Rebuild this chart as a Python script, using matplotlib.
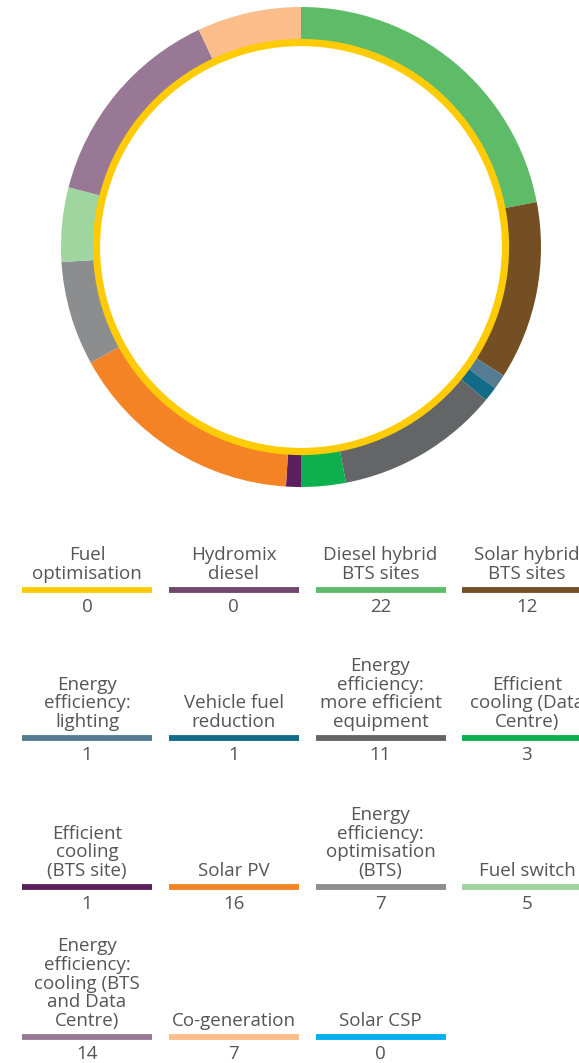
import matplotlib.pyplot as plt
from matplotlib.patches import Circle

# segments of the ring, clockwise from 12 o'clock
ring_labels = ['Diesel hybrid BTS sites', 'Solar hybrid BTS sites', 'Energy efficiency: lighting',
               'Vehicle fuel reduction', 'Energy efficiency: more efficient equipment',
               'Efficient cooling (Data Centre)', 'Efficient cooling (BTS site)', 'Solar PV',
               'Energy efficiency: optimisation (BTS)', 'Fuel switch',
               'Energy efficiency: cooling (BTS and Data Centre)', 'Co-generation']
ring_values = [22, 12, 1, 1, 11, 3, 1, 16, 7, 5, 14, 7]
ring_colors = ['#5EBC69', '#754F24', '#557C92', '#136B8A', '#646566', '#0CB04C',
               '#5A1F5C', '#F38325', '#8C8D8E', '#9FD59E', '#987895', '#FBBE8A']

# legend entries (order as printed)
legend_labels = ['Fuel\noptimisation', 'Hydromix\ndiesel', 'Diesel hybrid\nBTS sites',
                 'Solar hybrid\nBTS sites',
                 'Energy\nefficiency:\nlighting', 'Vehicle fuel\nreduction',
                 'Energy\nefficiency:\nmore efficient\nequipment', 'Efficient\ncooling (Data\nCentre)',
                 'Efficient\ncooling\n(BTS site)', 'Solar PV', 'Energy\nefficiency:\noptimisation\n(BTS)',
                 'Fuel switch',
                 'Energy\nefficiency:\ncooling (BTS\nand Data\nCentre)', 'Co-generation', 'Solar CSP']
legend_values = [0, 0, 22, 12, 1, 1, 11, 3, 1, 16, 7, 5, 14, 7, 0]
legend_colors = ['#FFCB05', '#71476D', '#5EBC69', '#754F24', '#557C92', '#136B8A', '#646566',
                 '#0CB04C', '#5A1F5C', '#F38325', '#8C8D8E', '#9FD59E', '#987895', '#FBBE8A',
                 '#00AEEF']

W, H = 579, 1063
fig = plt.figure(figsize=(W / 100, H / 100), dpi=100)

# donut
cx, cy, R = 301, 247, 240
ax = fig.add_axes([(cx - R) / W, (H - cy - R) / H, 2 * R / W, 2 * R / H])
ax.pie(ring_values, colors=ring_colors, startangle=90, counterclock=False, radius=1,
       wedgeprops=dict(width=33 / R, linewidth=0))
ax.add_patch(Circle((0, 0), 204.5 / R, fill=False, edgecolor='#FFCB05', linewidth=5.2))
ax.set_xlim(-1, 1)
ax.set_ylim(-1, 1)
ax.set_aspect('equal')
ax.axis('off')

# legend grid in pixel coordinates
lg = fig.add_axes([0, 0, 1, 1])
lg.set_xlim(0, W)
lg.set_ylim(H, 0)
lg.axis('off')

col_x = [87, 233.5, 380.5, 527]
row_y = [590, 738, 887, 1037]
bar_w = 130
txt = '#555555'
for i, (lab, val, c) in enumerate(zip(legend_labels, legend_values, legend_colors)):
    x = col_x[i % 4]
    y = row_y[i // 4]
    lg.plot([x - bar_w / 2, x + bar_w / 2], [y, y], color=c, lw=4.2, solid_capstyle='butt')
    lg.text(x, y - 7, lab, ha='center', va='bottom', fontsize=13.5, color=txt,
            family='Open Sans', linespacing=1.05)
    lg.text(x, y + 17, str(val), ha='center', va='center', fontsize=13.5, color=txt,
            family='Open Sans')

fig.savefig('out.png', dpi=100)
